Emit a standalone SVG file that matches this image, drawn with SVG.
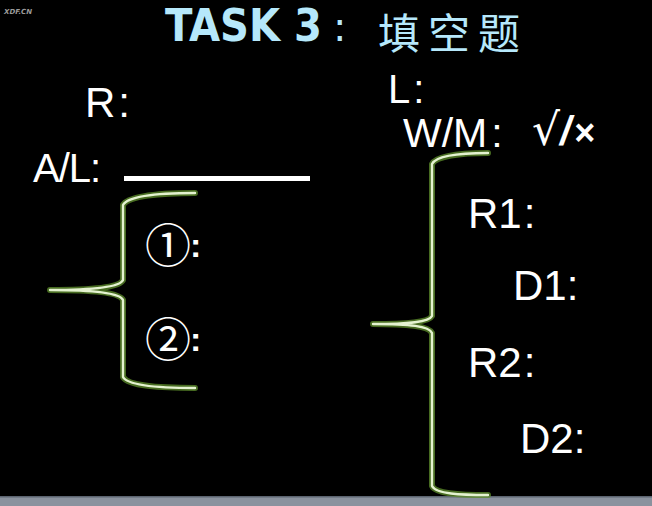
<svg xmlns="http://www.w3.org/2000/svg" width="652" height="506" viewBox="0 0 652 506">
<defs>
<style>
.t{font-family:"Liberation Sans",Arial,sans-serif;fill:#fff}
.glow{fill:none;stroke:#5f8f2c;stroke-width:6;stroke-opacity:0.75;stroke-linecap:round;stroke-linejoin:round}
.core{fill:none;stroke:#e4f2d0;stroke-width:2.4;stroke-linecap:round;stroke-linejoin:round}
.title{fill:#b6e8fb}
.circ{font-family:"Noto Sans CJK SC","DejaVu Sans",sans-serif;fill:#fff}
</style>
<path id="lb" d="M195,193 C160,193 128,196 123,205 L123,280 C120,287 95,290 50,290 C95,290 120,293 123,300 L123,377 C128,386 160,388 195,388"/>
<path id="rb" d="M488,153 C460,153 436,156 432,164 L432,316 C429,322 410,324 373,324 C410,324 429,326 432,333 L432,486 C436,494 460,495 488,495"/>
</defs>
<rect width="652" height="506" fill="#000"/>
<rect x="0" y="496" width="652" height="10" fill="#8a929e"/>
<rect x="0" y="496" width="652" height="1.5" fill="#5c6470"/>
<text x="4" y="14" font-family="DejaVu Sans,sans-serif" font-size="7" font-weight="bold" font-style="italic" fill="#9a9a9a">XDF.CN</text>
<g id="title">
<text class="title" x="165" y="41" font-family="DejaVu Sans Condensed,DejaVu Sans,sans-serif" font-weight="bold" font-size="44" textLength="157" lengthAdjust="spacingAndGlyphs">TASK 3</text>
<text class="title" x="333" y="41" font-family="DejaVu Sans,sans-serif" font-size="40">:</text>
<text class="title" x="378" y="49" font-family="Noto Sans CJK SC,sans-serif" font-size="42" letter-spacing="8">填空题</text>
</g>
<g id="connectors">
<use href="#lb" class="glow"/><use href="#lb" class="core"/>
<use href="#rb" class="glow"/><use href="#rb" class="core"/>
</g>
<g id="r"><text class="t" x="85" y="117" font-size="42">R<tspan dx="3">:</tspan></text></g>
<g id="al"><text class="t" x="33" y="182" font-size="40" letter-spacing="-1">A/L:</text>
<rect x="124" y="176" width="186" height="5" fill="#fff"/></g>
<g id="c1"><text class="circ" x="145" y="262" font-size="46">①</text><text class="t" x="190" y="257" font-size="34" font-weight="bold">:</text></g>
<g id="c2"><text class="circ" x="145" y="356" font-size="46">②</text><text class="t" x="190" y="351" font-size="34" font-weight="bold">:</text></g>
<g id="l"><text class="t" x="388" y="103" font-size="40">L<tspan dx="3">:</tspan></text></g>
<g id="wm"><text class="t" x="403" y="147" font-size="41">W/M<tspan dx="4">:</tspan></text>
<text class="t" x="532" y="145" font-size="40"><tspan font-family="DejaVu Sans,sans-serif" font-size="44">√</tspan><tspan font-weight="bold" font-style="italic">/</tspan><tspan font-weight="bold" dx="3" font-size="36">×</tspan></text></g>
<g id="r1"><text class="t" x="468" y="228" font-size="42">R1<tspan dx="2">:</tspan></text></g>
<g id="d1"><text class="t" x="513" y="300" font-size="42">D1<tspan dx="0">:</tspan></text></g>
<g id="r2"><text class="t" x="468" y="377" font-size="42">R2<tspan dx="2">:</tspan></text></g>
<g id="d2"><text class="t" x="520" y="453" font-size="42">D2<tspan dx="0">:</tspan></text></g>
</svg>
